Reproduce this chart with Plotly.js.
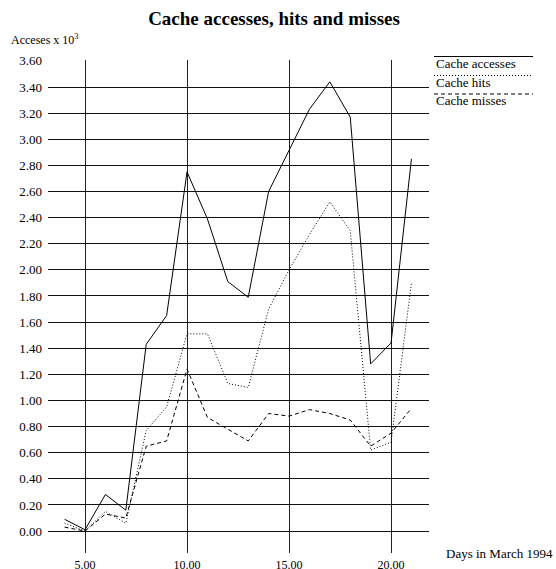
<!DOCTYPE html>
<html>
<head>
<meta charset="utf-8">
<script src="https://cdn.plot.ly/plotly-3.0.1.min.js"></script>
<style>html,body{margin:0;padding:0;background:#fff;}#chart{width:556px;height:569px;}</style>
</head>
<body>
<div id="chart"></div>
<script>
const days = [4,5,6,7,8,9,10,11,12,13,14,15,16,17,18,19,20,21];
const cacheAccesses = [0.09,0.01,0.28,0.16,1.43,1.65,2.75,2.39,1.91,1.79,2.60,2.91,3.23,3.44,3.17,1.28,1.44,2.85];
const cacheHits     = [0.06,0.00,0.15,0.06,0.77,0.95,1.51,1.51,1.13,1.10,1.70,2.00,2.27,2.52,2.30,0.62,0.68,1.90];
const cacheMisses   = [0.03,0.00,0.13,0.10,0.65,0.69,1.24,0.87,0.78,0.69,0.90,0.88,0.93,0.90,0.85,0.65,0.75,0.94];
const seriesNames = ["Cache accesses","Cache hits","Cache misses"];
const xTicks = [5,10,15,20];

const W = 556, H = 569;
const M = {l:48, r:127, t:60, b:16};
const PW = W - M.l - M.r, PH = H - M.t - M.b;
const px = x => (x - M.l) / PW;
const py = y => 1 - (y - M.t) / PH;
const FONT = "Liberation Serif, Times New Roman, serif";

const dashes = ["solid","1px,2px","4px,3px"];
const seriesData = [cacheAccesses, cacheHits, cacheMisses];
const traces = seriesData.map((v,i) => ({
  x: days, y: v, type: "scatter", mode: "lines", name: seriesNames[i],
  line: {color: "#000", width: 1, dash: dashes[i]}, hoverinfo: "skip"
}));

const legendY = [56.5, 75.5, 94];
const shapes = legendY.map((y,i) => ({
  type: "line", xref: "paper", yref: "paper",
  x0: px(434), x1: px(533), y0: py(y), y1: py(y),
  line: {color: "#000", width: 1, dash: dashes[i]}
}));
const annotations = legendY.map((y,i) => ({
  xref: "paper", yref: "paper", x: px(434), y: py(y + 7),
  xanchor: "left", yanchor: "middle", showarrow: false,
  text: seriesNames[i], font: {family: FONT, size: 13, color: "#000"}
}));
annotations.push({
  xref: "paper", yref: "paper", x: px(9), y: py(39),
  xanchor: "left", yanchor: "middle", showarrow: false,
  text: "Acceses x 10<sup>3</sup>", font: {family: FONT, size: 12, color: "#000"}
});
annotations.push({
  xref: "paper", yref: "paper", x: px(555), y: py(553),
  xanchor: "right", yanchor: "middle", showarrow: false,
  text: "Days in March 1994", font: {family: FONT, size: 13, color: "#000"}
});

const layout = {
  width: W, height: H,
  margin: M,
  paper_bgcolor: "#fff", plot_bgcolor: "#fff",
  showlegend: false,
  title: {text: "<b>Cache accesses, hits and misses</b>", x: 274/W, xref: "container", xanchor: "center",
          y: 1 - 18/H, yref: "container", yanchor: "middle",
          font: {family: FONT, size: 19, color: "#000"}},
  xaxis: {
    range: [3.186, 21.86], tickvals: xTicks, tickformat: ".2f",
    showgrid: true, gridcolor: "#222", gridwidth: 1, zeroline: false, showline: false,
    ticks: "", ticklabelstandoff: 3, tickfont: {family: FONT, size: 12, color: "#000"}
  },
  yaxis: {
    range: [-0.168, 3.607], dtick: 0.2, tick0: 0, tickformat: ".2f",
    showgrid: true, gridcolor: "#111", gridwidth: 1, zeroline: false, showline: false,
    ticks: "", ticklabelstandoff: 5, tickfont: {family: FONT, size: 13, color: "#000"}
  },
  shapes: shapes,
  annotations: annotations
};

Plotly.newPlot("chart", traces, layout, {displayModeBar: false, staticPlot: true});
</script>
</body>
</html>
